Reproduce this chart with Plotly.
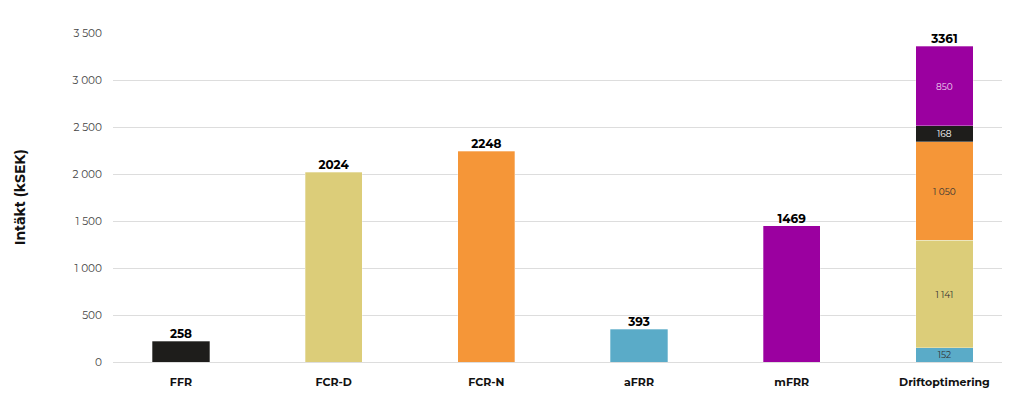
import plotly.graph_objects as go

# kategorier och värden (kSEK)
categories = ["FFR", "FCR-D", "FCR-N", "aFRR", "mFRR", "Driftoptimering"]
bar_values = [220, 2017, 2240, 351, 1450]          # höjd på staplarna som ritats
total_labels = ["258", "2024", "2248", "393", "1469", "3361"]

# uppdelning av Driftoptimering (nerifrån och upp)
stack_names = ["aFRR", "FCR-D", "FCR-N", "FFR", "mFRR"]
stack_values = [152, 1141, 1050, 168, 850]
stack_labels = ["152", "1 141", "1 050", "168", "850"]

colors = {
    "FFR": "#1e1d1b",
    "FCR-D": "#dccd79",
    "FCR-N": "#f59638",
    "aFRR": "#5aabc8",
    "mFRR": "#9b00a0",
}
label_colors = {
    "FFR": "#ffffff",
    "FCR-D": "#333333",
    "FCR-N": "#333333",
    "aFRR": "#333333",
    "mFRR": "#f0d8f0",
}

y_ticks = [0, 500, 1000, 1500, 2000, 2500, 3000, 3500]
y_ticktext = ["0", "500", "1 000", "1 500", "2 000", "2 500", "3 000", "3 500"]

FONT = "Montserrat, Open Sans, sans-serif"

fig = go.Figure()

for name, val, lab in zip(stack_names, stack_values, stack_labels):
    i = categories.index(name)
    fig.add_trace(go.Bar(
        x=[name, "Driftoptimering"],
        y=[bar_values[i], val],
        text=["", lab],
        textposition="inside",
        insidetextanchor="middle",
        constraintext="none",
        textangle=0,
        textfont=dict(family=FONT, size=9, color=label_colors[name]),
        marker=dict(color=colors[name], line=dict(color="rgba(255,255,255,0.5)", width=0.6)),
        width=0.375,
        name=name,
        hoverinfo="skip",
    ))

# summor ovanför staplarna
tops = bar_values + [sum(stack_values)]
fig.add_trace(go.Scatter(
    x=categories,
    y=tops,
    text=total_labels,
    mode="text",
    textposition="top center",
    textfont=dict(family=FONT, size=12, color="#000000", weight="bold"),
    cliponaxis=False,
    showlegend=False,
))

# sidan har 8 px marginal i webbläsaren, därför mindre figur och marginaler
fig.update_layout(
    barmode="stack",
    width=1016,
    height=393,
    margin=dict(l=105, r=22, t=25, b=35),
    paper_bgcolor="white",
    plot_bgcolor="white",
    showlegend=False,
    font=dict(family=FONT),
    xaxis=dict(
        categoryorder="array",
        categoryarray=categories,
        range=[-0.445, 5.377],
        showgrid=False,
        showline=False,
        ticks="",
        tickfont=dict(family=FONT, size=11, color="#111111", weight="bold"),
        ticklabelstandoff=12,
    ),
    yaxis=dict(
        range=[0, 3500],
        tickvals=y_ticks,
        ticktext=y_ticktext,
        showgrid=True,
        gridcolor="#dddddd",
        gridwidth=1,
        zeroline=True,
        zerolinecolor="#dddddd",
        zerolinewidth=1,
        tickfont=dict(family=FONT, size=10.5, color="#444444"),
        ticklabelstandoff=10,
    ),
    annotations=[dict(
        text="<b>Intäkt (kSEK)</b>",
        xref="paper", yref="paper",
        x=-0.105, y=0.5,
        xanchor="center", yanchor="middle",
        textangle=-90,
        showarrow=False,
        font=dict(family=FONT, size=14, color="#111111"),
    )],
)

fig.write_html("out.html")
